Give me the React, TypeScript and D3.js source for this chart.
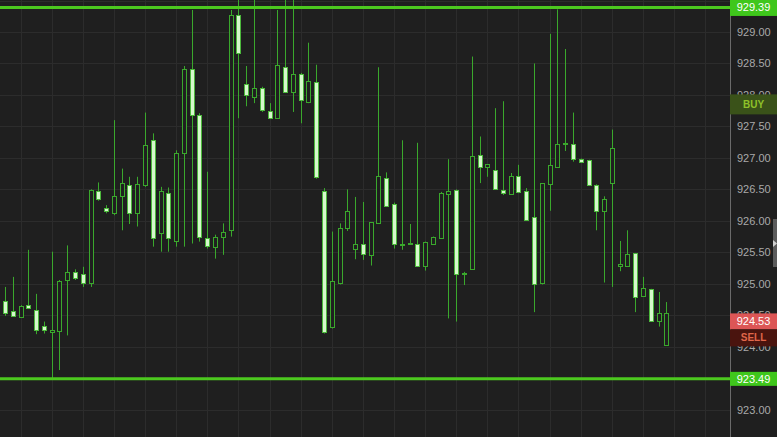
import React from "react";
import * as d3 from "d3";

// OHLC, one entry per candle (oldest first)
const opens = [
  924.72, 924.57, 924.48, 924.66, 924.58, 924.33, 924.23, 924.25, 925.06, 925.18,
  925.15, 925.01, 926.48, 926.21, 926.13, 926.4, 926.57, 926.13, 926.57, 927.28,
  925.81, 926.45, 925.68, 927.07, 928.42, 927.68, 925.73, 925.59, 925.74, 925.85,
  929.27, 928.18, 927.96, 928.11, 927.74, 927.63, 928.45, 928.05, 928.34, 927.89,
  928.21, 926.48, 924.31, 925.02, 925.88, 925.55, 925.63, 925.46, 925.96, 926.68,
  926.27, 925.62, 925.63, 925.64, 925.29, 925.64, 925.73, 926.43, 926.49, 925.15,
  925.24, 927.05, 926.85, 926.81, 926.49, 926.43, 926.71, 926.47, 926.06, 925.01,
  926.58, 926.86, 927.22, 927.22, 926.99, 926.97, 926.57, 926.16, 926.6, 925.29,
  925.29, 925.49, 924.8, 924.92, 924.41, 924.03,
];
const highs = [
  924.95, 925.11, 924.66, 925.54, 924.84, 924.4, 925.51, 925.06, 925.61, 925.23,
  925.27, 926.5, 926.61, 926.25, 927.6, 926.83, 926.7, 926.7, 927.72, 927.39,
  926.54, 926.53, 927.12, 928.46, 929.35, 927.71, 926.78, 925.78, 925.96, 929.35,
  929.51, 928.46, 929.51, 928.13, 927.87, 929.35, 929.51, 929.51, 928.35, 928.83,
  928.48, 926.52, 925.83, 925.96, 926.5, 926.38, 926.3, 925.98, 928.44, 926.77,
  926.29, 927.28, 925.95, 927.24, 925.67, 925.75, 926.46, 926.98, 926.5, 925.19,
  928.61, 927.34, 926.9, 927.79, 927.9, 926.76, 926.89, 926.52, 928.5, 926.6,
  928.97, 929.36, 928.73, 927.72, 926.99, 926.97, 926.58, 926.39, 927.45, 925.68,
  925.85, 925.49, 925.11, 924.92, 924.87, 924.71,
];
const lows = [
  924.49, 924.48, 924.47, 924.6, 924.2, 924.21, 923.49, 923.63, 924.18, 925.06,
  924.95, 924.95, 926.32, 926.12, 926.09, 925.85, 925.95, 925.91, 926.54, 925.59,
  925.51, 925.51, 925.59, 925.59, 925.64, 925.67, 925.56, 925.4, 925.46, 925.75,
  927.63, 927.82, 927.87, 927.73, 927.63, 927.62, 928.04, 927.73, 927.55, 927.87,
  926.67, 924.21, 924.29, 924.99, 925.84, 925.39, 925.38, 925.29, 925.96, 926.24,
  925.56, 925.54, 925.62, 925.27, 925.21, 925.63, 925.72, 924.45, 924.4, 924.98,
  925.24, 926.6, 926.7, 926.49, 926.41, 926.43, 926.44, 926.01, 924.55, 924.99,
  926.16, 926.86, 927.11, 926.94, 926.94, 926.57, 925.85, 925.02, 924.95, 925.2,
  925.29, 924.55, 924.8, 924.4, 924.32, 924.03,
];
const closes = [
  924.53, 924.49, 924.65, 924.61, 924.26, 924.27, 924.26, 925.04, 925.18, 925.1,
  925.02, 926.49, 926.34, 926.16, 926.39, 926.6, 926.13, 926.58, 927.2, 925.72,
  926.47, 925.72, 927.07, 928.41, 927.68, 925.74, 925.6, 925.74, 925.82, 929.27,
  928.67, 928.0, 928.11, 927.76, 927.64, 928.48, 928.05, 928.33, 927.92, 928.22,
  926.7, 924.24, 925.04, 925.89, 926.16, 925.63, 925.47, 925.98, 926.71, 926.24,
  925.64, 925.63, 925.65, 925.29, 925.66, 925.74, 926.45, 926.48, 925.16, 925.17,
  927.03, 926.86, 926.9, 926.5, 926.44, 926.72, 926.46, 926.02, 924.99, 926.6,
  926.89, 927.22, 927.24, 926.99, 926.94, 926.57, 926.16, 926.35, 927.16, 925.31,
  925.48, 924.79, 924.93, 924.41, 924.53, 924.53,
];

const tickValues = [923, 923.5, 924, 924.5, 925, 925.5, 926, 926.5, 927, 927.5, 928, 928.5, 929];
const resistance = 929.39;
const support = 923.49;
const sellPrice = 924.53;
const buyMarker = 927.85;

const W = 777;
const H = 437;
const axisX = 730;
const font = "'Liberation Sans', Arial, sans-serif";

export default function App() {
  const y = d3.scaleLinear().domain([923, 929]).range([409.7, 32]);
  const x = d3
    .scalePoint<number>()
    .domain(d3.range(opens.length))
    .range([5, 666.3]);
  const step = x.step();

  // vertical grid every 4 candles, carried on past the last one
  const gridX = d3.range(0, 23).map((k) => (x(2) as number) + k * 4 * step).filter((v) => v < axisX);
  const gridY = d3.range(922.5, 929.51, 0.5).map((v) => y(v));

  const fmt = d3.format(".2f");
  const boxW = W - axisX;
  const labelX = axisX + boxW / 2;

  const sellY = y(sellPrice);
  const buyY = y(buyMarker);

  return (
    <svg
      width={W}
      height={H}
      style={{ position: "absolute", left: 0, top: 0, display: "block", background: "#1f1f1f" }}
    >
      <rect width={W} height={H} fill="#1f1f1f" />

      {/* grid */}
      <g stroke="#2c2c2c" strokeWidth={1}>
        {gridY.map((gy, i) => (
          <line key={"h" + i} x1={0} x2={axisX} y1={Math.round(gy) + 0.5} y2={Math.round(gy) + 0.5} />
        ))}
        {gridX.map((gx, i) => (
          <line key={"v" + i} x1={Math.round(gx) + 0.5} x2={Math.round(gx) + 0.5} y1={0} y2={H} />
        ))}
      </g>

      {/* candles */}
      <g>
        {opens.map((o, i) => {
          const c = closes[i];
          const cx = Math.round(x(i) as number);
          const up = c >= o;
          const top = Math.round(y(Math.max(o, c)));
          const bot = Math.round(y(Math.min(o, c)));
          return (
            <g key={i}>
              <line
                x1={cx + 0.5}
                x2={cx + 0.5}
                y1={y(highs[i])}
                y2={y(lows[i])}
                stroke="#3aa82c"
                strokeWidth={1}
              />
              <rect
                x={cx - 1.5}
                y={top + 0.5}
                width={4}
                height={Math.max(1, bot - top)}
                fill={up ? "#1f1f1f" : "#d6f8cc"}
                stroke={up ? "#3aa82c" : "#4cb83c"}
                strokeWidth={1}
              />
            </g>
          );
        })}
      </g>

      {/* support / resistance */}
      <line x1={0} x2={axisX} y1={y(resistance)} y2={y(resistance)} stroke="#4cc81f" strokeWidth={3} />
      <line x1={0} x2={axisX} y1={y(support)} y2={y(support)} stroke="#4cc81f" strokeWidth={3} />

      {/* right axis */}
      <line x1={axisX + 0.5} x2={axisX + 0.5} y1={0} y2={H} stroke="#6a6a6a" strokeWidth={1} />
      <g fontFamily={font} fontSize={11} fill="#a9a9a9">
        {tickValues.map((t) => (
          <text key={t} x={737} y={y(t)} dominantBaseline="central">
            {fmt(t)}
          </text>
        ))}
      </g>

      {/* price boxes */}
      <g fontFamily={font} fontSize={11} textAnchor="middle">
        <rect x={axisX} y={y(resistance) - 8.5} width={boxW} height={17} fill="#3fc71c" />
        <text x={labelX} y={y(resistance)} dominantBaseline="central" fill="#ffffff">
          {fmt(resistance)}
        </text>

        <rect x={axisX} y={buyY - 10} width={boxW} height={20} fill="#3a5219" />
        <text x={labelX} y={buyY} dominantBaseline="central" fill="#8fc229" fontWeight="bold" fontSize={10}>
          BUY
        </text>

        <rect x={axisX} y={sellY} width={boxW} height={16} fill="#dc5656" />
        <text x={labelX} y={sellY + 8} dominantBaseline="central" fill="#ffffff">
          {fmt(sellPrice)}
        </text>
        <rect x={axisX} y={sellY + 16} width={boxW} height={17} fill="#4a140e" />
        <text x={labelX} y={sellY + 24.5} dominantBaseline="central" fill="#e0664a" fontWeight="bold" fontSize={10}>
          SELL
        </text>

        <rect x={axisX} y={y(support) - 7} width={boxW} height={14} fill="#3fc71c" />
        <text x={labelX} y={y(support)} dominantBaseline="central" fill="#ffffff">
          {fmt(support)}
        </text>
      </g>

      {/* scroll handle on the right edge */}
      <rect x={773} y={219} width={4} height={48} fill="#5c5c5c" />
      <path d="M773,240 L777,243.5 L773,247 Z" fill="#d0d0d0" />
    </svg>
  );
}
